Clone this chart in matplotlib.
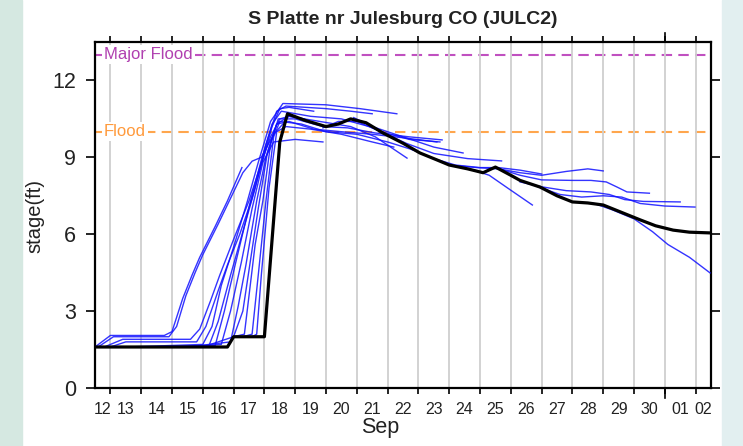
import numpy as np
import matplotlib.pyplot as plt
import matplotlib.transforms as mtransforms
from matplotlib.patches import Rectangle

plt.rcParams['font.family'] = ['Liberation Sans', 'DejaVu Sans']

# x values are days of September (Oct 1 = 31, Oct 2 = 32)
obs_day = [12.5, 16.8, 17.0, 18.0, 18.5, 18.75, 19.3, 20.0, 20.4, 20.8, 21.3,
           21.85, 22.5, 23.05, 23.6, 24.0, 24.6, 25.1, 25.5, 26.0, 26.3, 26.95,
           27.5, 28.0, 28.5, 29.0, 29.6, 30.2, 30.7, 31.27, 31.8, 32.5]
obs_stage = [1.6, 1.6, 2.0, 2.0, 9.6, 10.7, 10.45, 10.2, 10.3, 10.5, 10.35,
             9.95, 9.55, 9.17, 8.9, 8.7, 8.55, 8.4, 8.62, 8.3, 8.1, 7.84,
             7.5, 7.26, 7.22, 7.14, 6.85, 6.56, 6.33, 6.16, 6.08, 6.05]

# forecast traces, each (days, stages)
forecasts = [
    ([12.5, 13.0, 14.75, 15.0, 15.35, 15.65, 15.9, 16.4, 16.8, 17.27],
     [1.6, 2.05, 2.05, 2.2, 3.5, 4.4, 5.1, 6.3, 7.3, 8.6]),
    ([12.6, 13.1, 14.9, 15.15, 15.45, 15.75, 16.0, 16.5, 16.9, 17.3, 17.6, 17.9, 18.3, 18.6],
     [1.6, 2.0, 2.0, 2.4, 3.6, 4.5, 5.2, 6.4, 7.4, 8.4, 8.85, 9.0, 9.9, 10.3]),
    ([12.8, 13.4, 15.6, 15.9, 16.25, 16.55, 17.0, 17.5, 17.85, 18.2, 18.5, 18.8, 19.3],
     [1.6, 1.9, 1.9, 2.3, 3.4, 4.4, 5.8, 7.3, 8.6, 9.8, 10.5, 10.6, 10.5]),
    ([13.0, 13.5, 15.8, 16.1, 16.5, 16.8, 17.2, 17.6, 17.95, 18.25, 18.5, 18.8, 19.6],
     [1.6, 1.8, 1.8, 2.4, 3.8, 4.8, 6.0, 7.4, 8.9, 10.2, 10.9, 10.95, 10.8]),
    ([13.5, 16.0, 16.3, 16.6, 17.0, 17.45, 17.8, 18.2, 18.6, 20.0, 21.1, 22.3],
     [1.6, 1.7, 2.4, 4.0, 5.5, 7.3, 8.8, 10.4, 11.1, 11.05, 10.9, 10.7]),
    ([14.0, 16.2, 16.5, 16.9, 17.3, 17.7, 18.05, 18.4, 18.7, 20.0, 20.8, 21.5],
     [1.6, 1.65, 2.6, 4.4, 6.1, 7.8, 9.5, 10.8, 11.0, 10.9, 10.8, 10.7]),
    ([14.5, 16.4, 16.7, 17.05, 17.55, 17.9, 18.25, 18.55, 19.5, 20.5, 21.4, 22.0],
     [1.6, 1.65, 3.0, 4.8, 7.3, 8.9, 10.3, 10.8, 10.6, 10.5, 10.2, 9.9]),
    ([15.0, 16.6, 16.9, 17.25, 17.6, 17.95, 18.3, 19.0, 19.9],
     [1.6, 1.7, 3.0, 4.9, 7.0, 8.8, 9.6, 9.7, 9.6]),
    ([15.5, 16.9, 17.15, 17.4, 17.75, 18.05, 18.4, 18.8, 19.8, 20.8, 21.6, 22.63],
     [1.6, 1.8, 3.2, 4.8, 7.3, 9.0, 10.3, 10.6, 10.4, 10.2, 9.8, 8.97]),
    ([16.0, 17.0, 17.3, 17.5, 17.8, 18.1, 18.4, 18.8, 19.6, 20.5, 21.5, 22.6, 23.6],
     [1.6, 2.0, 3.0, 4.6, 7.0, 9.2, 10.3, 10.4, 10.1, 10.0, 9.9, 9.75, 9.6]),
    ([17.0, 17.35, 17.5, 17.7, 17.95, 18.2, 18.45, 19.0, 19.9, 20.7, 21.6, 22.7, 23.77],
     [2.0, 2.1, 3.6, 5.6, 7.3, 9.5, 10.5, 10.5, 10.2, 10.15, 9.95, 9.8, 9.68]),
    ([17.3, 17.6, 17.8, 18.05, 18.3, 18.5, 19.2, 20.0, 21.0, 22.0, 22.8],
     [2.0, 2.1, 4.4, 7.3, 9.8, 10.4, 10.3, 10.0, 9.9, 9.6, 9.3]),
    ([17.6, 17.75, 17.9, 18.15, 18.4, 18.7, 19.5, 20.5, 21.5, 22.2],
     [2.0, 2.1, 4.4, 7.8, 10.0, 10.2, 10.1, 9.9, 9.6, 9.4]),
    ([19.9, 20.4, 21.0, 21.8, 22.7, 23.7],
     [10.15, 10.4, 10.4, 10.0, 9.7, 9.6]),
    ([20.9, 21.5, 22.5, 23.5, 24.45],
     [10.55, 10.2, 9.8, 9.4, 9.17]),
    ([21.8, 22.6, 23.5, 24.6, 25.7],
     [10.0, 9.55, 9.15, 8.95, 8.86]),
    ([22.8, 23.5, 24.2, 25.0, 25.6, 26.3, 27.0],
     [9.3, 8.95, 8.7, 8.6, 8.6, 8.5, 8.35]),
    ([24.8, 25.3, 25.9, 26.7],
     [8.5, 8.3, 7.8, 7.14]),
    ([24.0, 24.9, 25.6, 26.3, 27.0, 27.8, 28.5, 29.0],
     [8.7, 8.6, 8.55, 8.4, 8.3, 8.45, 8.55, 8.47]),
    ([25.5, 26.3, 27.0, 28.0, 28.6, 29.1, 29.45, 29.77, 30.5],
     [8.6, 8.3, 8.12, 8.1, 8.1, 8.04, 7.84, 7.65, 7.6]),
    ([26.3, 27.0, 27.8, 28.6, 29.2, 29.7, 30.3, 31.5],
     [8.04, 7.85, 7.7, 7.65, 7.55, 7.35, 7.28, 7.26]),
    ([26.9, 27.6, 28.3, 29.0, 29.6, 30.2, 31.0, 31.98],
     [7.84, 7.55, 7.45, 7.5, 7.45, 7.2, 7.1, 7.06]),
    ([28.0, 28.7, 29.3, 30.0, 30.6, 31.1, 31.8, 32.47],
     [7.26, 7.2, 6.95, 6.6, 6.1, 5.6, 5.1, 4.49]),
]

major_flood = 13.0
flood = 10.0

day_lines = list(range(13, 33))
day_label_pos = [12.75] + [d + 0.5 for d in range(13, 32)] + [32.25]
day_labels = ['12', '13', '14', '15', '16', '17', '18', '19', '20', '21', '22',
              '23', '24', '25', '26', '27', '28', '29', '30', '01', '02']
month_start = 31
y_ticks = [0, 3, 6, 9, 12]

W, H = 743, 446
fig = plt.figure(figsize=(W / 100, H / 100), dpi=100)
fig.add_artist(Rectangle((0, 0), 22 / W, 1, transform=fig.transFigure,
                         color='#d5e8e1', zorder=-5))
fig.add_artist(Rectangle((722 / W, 0), 21 / W, 1, transform=fig.transFigure,
                         color='#e2eff0', zorder=-5))

ax = fig.add_axes([95 / W, 1 - 388 / H, (711 - 95) / W, (388 - 42) / H])
ax.set_xlim(12.5, 32.5)
ax.set_ylim(0, 13.5)

# vertical day grid
ax.set_xticks(day_lines)
ax.set_xticklabels([])
ax.set_xticks(day_label_pos, minor=True)
ax.set_xticklabels(day_labels, minor=True, fontsize=11.5, color='#222222')
ax.xaxis.grid(True, which='major', color='#cfcfcf', lw=1.3, zorder=0)
ax.tick_params(axis='x', which='major', length=4, width=1.2, top=True, direction='out')
ax.tick_params(axis='x', which='minor', length=0, pad=10)
ax.set_yticks(y_ticks)
ax.tick_params(axis='y', length=6.5, width=1.2, right=True, pad=7,
               labelsize=15.5, labelcolor='#222222')
for s in ax.spines.values():
    s.set_linewidth(1.6)

# longer tick at month boundary
trans = mtransforms.blended_transform_factory(ax.transData, ax.transAxes)
ax.plot([month_start, month_start], [-0.03, 0], transform=trans, color='black',
        lw=1.2, clip_on=False)
ax.plot([month_start, month_start], [1, 1.026], transform=trans, color='black',
        lw=1.2, clip_on=False)

# flood levels
ax.axhline(major_flood, color='#c050c0', lw=1.5, ls=(0, (5, 3)), zorder=1)
ax.axhline(flood, color='#ffa64d', lw=1.5, ls=(0, (5, 3)), zorder=1)
ax.text(12.78, major_flood, 'Major Flood', color='#b040b0', fontsize=12,
        va='center', ha='left', zorder=2,
        bbox=dict(fc='white', ec='none', pad=1.5))
ax.text(12.78, flood, 'Flood', color='#ff9a3c', fontsize=12,
        va='center', ha='left', zorder=2,
        bbox=dict(fc='white', ec='none', pad=1.5))

for d, s in forecasts:
    ax.plot(d, s, color='#1010ff', lw=1.0, alpha=0.85, zorder=3)

ax.plot(obs_day, obs_stage, color='black', lw=2.3, zorder=4,
        solid_joinstyle='round')

fig.text(403 / W, 1 - 20 / H, 'S Platte nr Julesburg CO (JULC2)',
         fontsize=14, fontweight='bold', ha='center', va='center', color='#222222')
fig.text(35 / W, 1 - 216 / H, 'stage(ft)', fontsize=14.5, rotation=90,
         ha='center', va='center', color='#222222')
# month label centred on the September part of the axis
ax.text((12.5 + month_start) / 2, -0.115, 'Sep', transform=trans, fontsize=15.5,
        ha='center', va='center', color='#222222')

fig.savefig('out.png', dpi=100)
